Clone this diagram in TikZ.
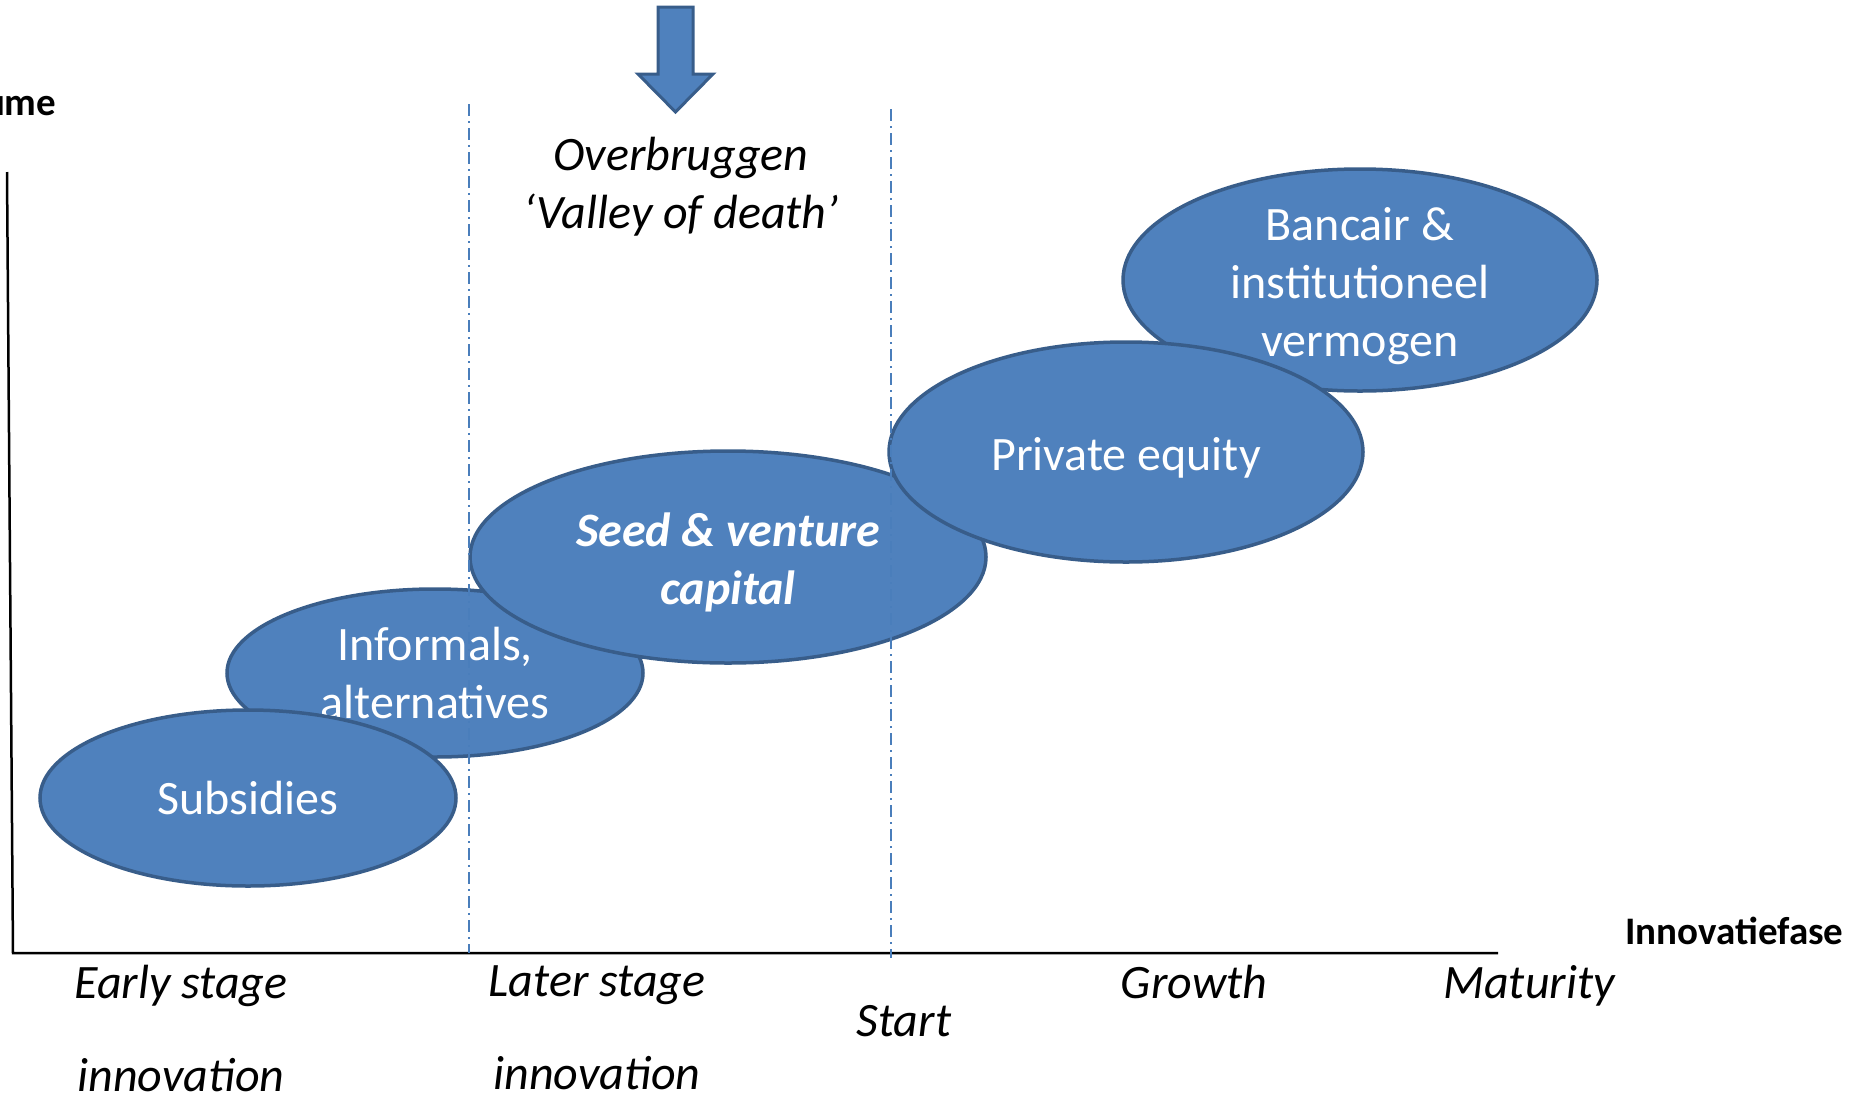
\documentclass[tikz,border=0pt]{standalone}
\usepackage{fontspec}
\setmainfont{Carlito}
\usetikzlibrary{shapes.geometric}
\definecolor{ofill}{HTML}{4F81BD}
\definecolor{oline}{HTML}{385D8A}
\definecolor{odash}{HTML}{4A7EBB}
\tikzset{
  blob/.style={ellipse, draw=oline, fill=ofill, line width=3.5pt, inner sep=0pt},
  blobtext/.style={inner sep=0pt, text=white, align=center, font=\fontsize{48}{58}\selectfont},
  phase/.style={inner sep=0pt, align=center, font=\fontsize{48}{93}\selectfont\itshape},
  axlabel/.style={inner sep=0pt, font=\fontsize{39}{46}\selectfont\bfseries},
  divider/.style={odash, line width=2pt, dash pattern=on 12pt off 5pt on 2pt off 5pt},
  axisline/.style={black, line width=2.5pt}
}
\begin{document}
\begin{tikzpicture}[x=1pt,y=-1pt]
\useasboundingbox (0,0) rectangle (1857,1098);
% axes
\coordinate (ytop) at (7,172);
\coordinate (orig) at (13,953);
\coordinate (xend) at (1498,953);
\draw[axisline] (ytop) -- (orig) -- (xend);
% ellipses with their texts
\node[blob, minimum width=416pt, minimum height=168pt] (informals) at (435,673) {};
\node[blobtext] (informalstext) at (informals.center) {Informals,\\alternatives};
\node[blob, minimum width=416pt, minimum height=176pt] (subsidies) at (248,798) {};
\node[blobtext] (subsidiestext) at (subsidies.center) {Subsidies};
\node[blob, minimum width=474pt, minimum height=222pt] (bancair) at (1360,280) {};
\node[blobtext] (bancairtext) at ([yshift=-6pt]bancair.center) {Bancair \&\\institutioneel\\vermogen};
\node[blob, minimum width=516pt, minimum height=212pt] (seed) at (728,557) {};
\node[blobtext, font=\fontsize{48}{58}\selectfont\bfseries\itshape] (seedtext) at ([yshift=-5pt]seed.center) {Seed \& venture\\capital};
\node[blob, minimum width=474pt, minimum height=220pt] (pe) at (1126,452) {};
\node[blobtext] (petext) at ([yshift=-6pt]pe.center) {Private equity};
% dividers
\coordinate (d1t) at (469,104);
\coordinate (d1b) at (469,953);
\coordinate (d2t) at (891,109);
\coordinate (d2b) at (891,958);
\draw[divider] (d1t) -- (d1b);
\draw[divider] (d2t) -- (d2b);
% arrow
\draw[fill=ofill, draw=oline, line width=3pt, line join=miter]
  (658,7) -- (693,7) -- (693,74) -- (713,74) -- (675.5,112) -- (638,74) -- (658,74) -- cycle;
% texts
\node[phase, font=\fontsize{48}{58}\selectfont\itshape] (valley) at (681,187) {Overbruggen\\`Valley of death'};
\node[axlabel, anchor=base east] (volume) at (56.5,115) {ume};
\node[axlabel, anchor=base west] (fase) at (1625,944) {Innovatiefase};
\node[phase] (early) at (181,1028) {Early stage\\innovation};
\node[phase] (later) at (597,1028) {Later stage\\innovation};
\node[phase] (start) at (904,1021) {Start};
\node[phase, anchor=base] (growth) at (1194,998) {Growth};
\node[phase, anchor=base] (maturity) at (1529,998) {Maturity};
\end{tikzpicture}
\end{document}
